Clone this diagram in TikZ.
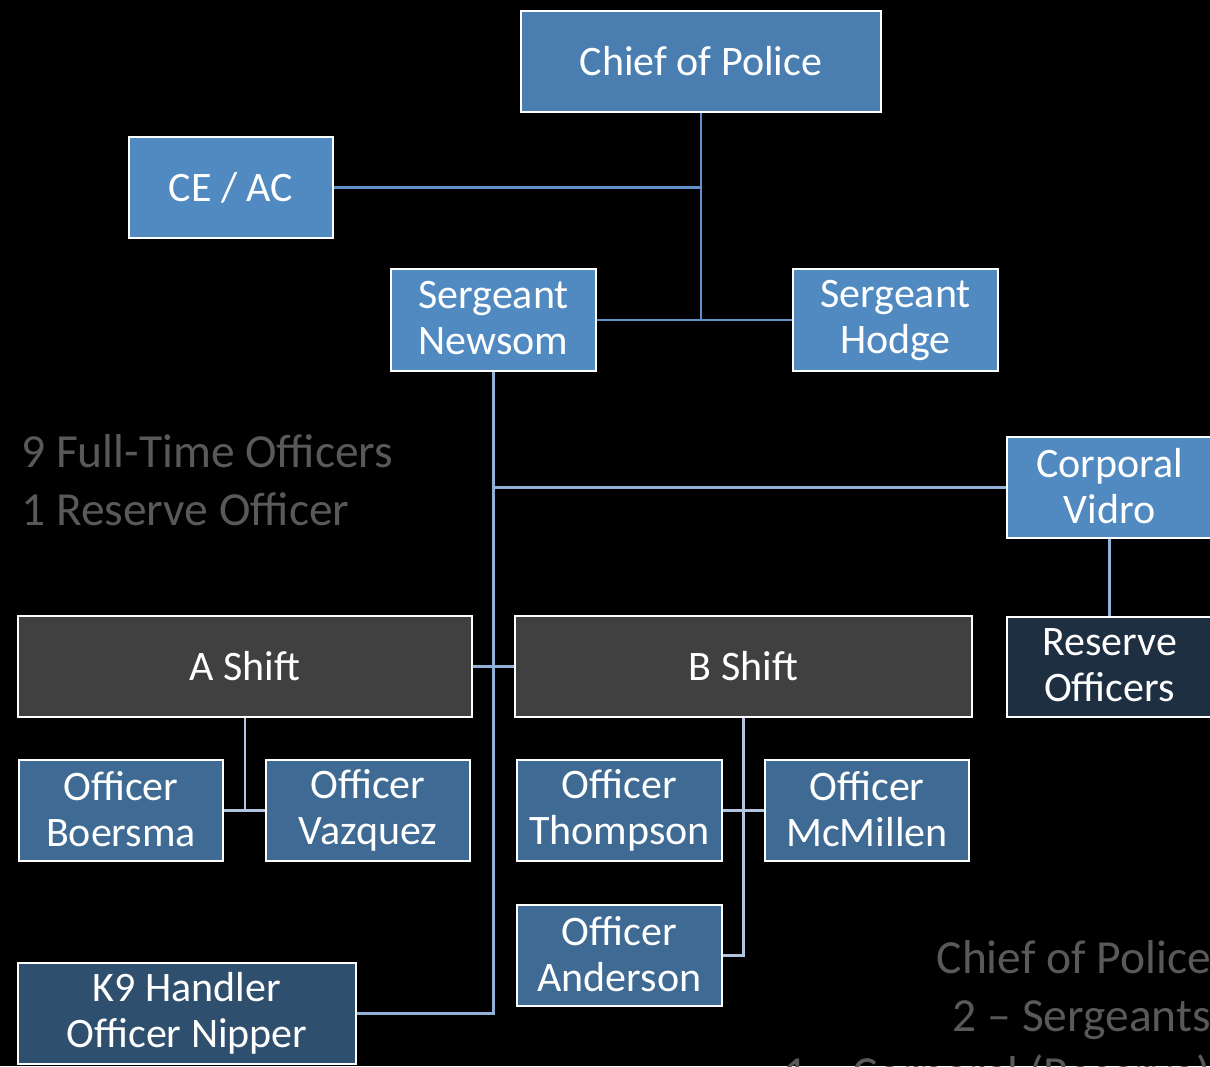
\documentclass[tikz,border=0pt]{standalone}
\usepackage{fontspec}
\setmainfont{Carlito}
\definecolor{topblue}{RGB}{74,126,176}
\definecolor{midblue}{RGB}{80,138,193}
\definecolor{offblue}{RGB}{62,106,148}
\definecolor{kblue}{RGB}{47,79,111}
\definecolor{resblue}{RGB}{30,47,66}
\definecolor{shiftgray}{RGB}{64,64,64}
\definecolor{lineA}{RGB}{96,145,203}
\definecolor{lineB}{RGB}{145,176,216}
\definecolor{lineC}{RGB}{178,196,222}
\definecolor{note}{RGB}{89,89,89}
\newcommand{\boxstrut}{\rule[-4pt]{0pt}{36pt}}
\begin{document}
\begin{tikzpicture}[x=1pt,y=-1pt,
  box/.style={draw=white, line width=2.5pt, inner sep=0pt, align=center, text=white,
    font=\fontsize{42}{46}\selectfont, execute at begin node={\boxstrut}, execute at end node={\boxstrut}},
  conA/.style={draw=lineA, line width=2.5pt},
  conB/.style={draw=lineB, line width=2.5pt},
  conC/.style={draw=lineC, line width=2.5pt},
  notetext/.style={text=note, inner sep=0pt, font=\fontsize{47.5}{58}\selectfont}]
\useasboundingbox (0,0) rectangle (1210,1066);
\fill[black] (0,0) rectangle (1210,1066);
\clip (0,0) rectangle (1210,1066);

% notes
\node[notetext, anchor=base west, align=left] (leftnote) at (21,525) {9 Full-Time Officers\\1 Reserve Officer};
\node[notetext, anchor=base east, align=right] (rightnote) at (1211,1089) {Chief of Police\\2 – Sergeants\\1 – Corporal (Reserve)};

% boxes
\node[box, fill=topblue, minimum width=360pt, minimum height=101pt] (chief) at (701,61.5) {Chief of Police};
\node[box, fill=midblue, minimum width=204pt, minimum height=101pt] (ceac) at (231,187.5) {CE / AC};
\node[box, fill=midblue, minimum width=205pt, minimum height=102pt] (newsom) at (493.5,320) {Sergeant\\Newsom};
\node[box, fill=midblue, minimum width=205pt, minimum height=102pt] (hodge) at (895.5,320) {Sergeant\\Hodge};
\node[box, fill=midblue, minimum width=205pt, minimum height=101pt] (vidro) at (1109.5,487.5) {Corporal\\Vidro};
\node[box, fill=resblue, minimum width=205pt, minimum height=100pt] (reserve) at (1109.5,667) {Reserve\\Officers};
\node[box, fill=shiftgray, minimum width=454pt, minimum height=101pt] (ashift) at (245,666.5) {A Shift};
\node[box, fill=shiftgray, minimum width=457pt, minimum height=101pt] (bshift) at (743.5,666.5) {B Shift};
\node[box, fill=offblue, minimum width=204pt, minimum height=101pt] (boersma) at (121,810.5) {Officer\\Boersma};
\node[box, fill=offblue, minimum width=204pt, minimum height=101pt] (vazquez) at (368,810.5) {Officer\\Vazquez};
\node[box, fill=offblue, minimum width=205pt, minimum height=101pt] (thompson) at (619.5,810.5) {Officer\\Thompson};
\node[box, fill=offblue, minimum width=204pt, minimum height=101pt] (mcmillen) at (867,810.5) {Officer\\McMillen};
\node[box, fill=offblue, minimum width=205pt, minimum height=101pt] (anderson) at (619.5,955.5) {Officer\\Anderson};
\node[box, fill=kblue, minimum width=338pt, minimum height=101pt] (k9) at (187,1013.5) {K9 Handler\\Officer Nipper};

% connectors
\coordinate (chiefJ) at (chief.south |- hodge.west);
\draw[conA] (chief.south) -- (chiefJ);
\draw[conA] (ceac.east) -- (ceac.east -| chief.south);
\draw[conA] (newsom.east) -- (hodge.west);
\draw[conB] (newsom.south) -- (newsom.south |- k9.east) -- (k9.east);
\draw[conB] (newsom.south |- vidro.west) -- (vidro.west);
\draw[conB] (vidro.south) -- (reserve.north);
\draw[conB] (ashift.east) -- (bshift.west);
\draw[conC] (ashift.south) -- (ashift.south |- boersma.east);
\draw[conC] (boersma.east) -- (vazquez.west);
\draw[conC] (bshift.south) -- (bshift.south |- anderson.east) -- (anderson.east);
\draw[conC] (thompson.east) -- (mcmillen.west);
\end{tikzpicture}
\end{document}
